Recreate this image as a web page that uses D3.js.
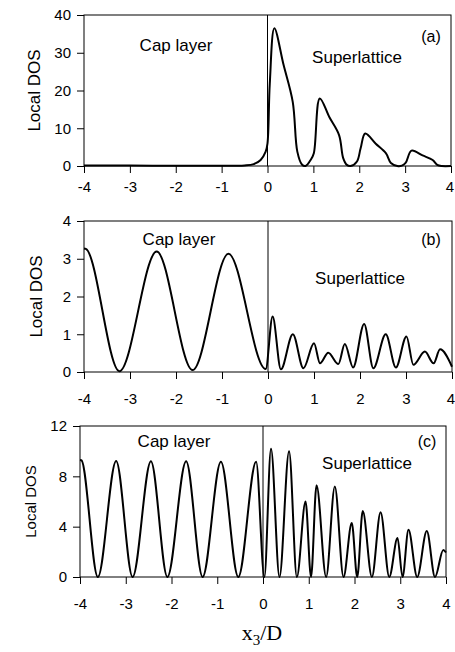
<!DOCTYPE html>
<html>
<head>
<meta charset="utf-8">
<script src="https://cdn.jsdelivr.net/npm/d3@7/dist/d3.min.js"></script>
<style>
  html, body { margin: 0; padding: 0; background: #fff; }
  svg { display: block; }
  text { font-family: "Liberation Sans", Arial, sans-serif; fill: #000; }
</style>
</head>
<body>
<svg id="chart" width="455" height="652"></svg>
<script>
// Shared x axis: position in units of the superlattice period D
const xDomain = [-4, 4];
const xTicks = [-4, -3, -2, -1, 0, 1, 2, 3, 4];

// Panel (a): local DOS, [x3/D, value]
const densityA = [
  [-4, 0.1], [-3, 0.1], [-2, 0.08], [-1, 0.05], [-0.5, 0.15], [-0.3, 0.5],
  [-0.15, 1.6], [-0.04, 3.8], [0, 6], [0.05, 21.9], [0.15, 36.5], [0.35, 26.8],
  [0.55, 17], [0.65, 3.8], [0.75, 0.4], [0.83, 0], [0.94, 1.6], [1.01, 3.4], [1.14, 17.9],
  [1.35, 12.9], [1.56, 8.2], [1.65, 2.1], [1.73, 0.3], [1.81, 0], [1.95, 1.2], [2.03, 4.7],
  [2.13, 8.6], [2.36, 5.9], [2.58, 3.4], [2.69, 0.8], [2.83, 0], [2.93, 0.1],
  [3.01, 0.8], [3.14, 4.06], [3.38, 2.8], [3.6, 1.6], [3.7, 0.3], [3.8, 0], [4, 0]
];
const yTicksA = [0, 10, 20, 30, 40];

// Panel (b)
const densityB = [
  [-4, 3.27], [-3.96, 3.26], [-3.23, 0.02], [-2.42, 3.19], [-1.64, 0.05],
  [-0.86, 3.13], [-0.05, 0.08], [0.10, 1.47], [0.28, 0.07], [0.54, 1.0],
  [0.77, 0.1], [1.0, 0.76], [1.13, 0.23], [1.31, 0.51], [1.53, 0.21],
  [1.67, 0.74], [1.85, 0.12], [2.09, 1.27], [2.29, 0.1], [2.56, 1.0],
  [2.78, 0.12], [3.01, 0.94], [3.16, 0.19], [3.41, 0.54], [3.6, 0.23],
  [3.74, 0.6], [4.0, 0.14]
];
const yTicksB = [0, 1, 2, 3, 4];

// Panel (c)
const densityC = [
  [-4, 9.3], [-3.97, 9.28], [-3.61, 0], [-3.21, 9.22], [-2.85, 0], [-2.45, 9.2],
  [-2.09, 0], [-1.68, 9.2], [-1.32, 0], [-0.92, 9.15], [-0.54, 0], [-0.15, 9.15],
  [0.03, 0], [0.175, 10.2], [0.36, 0], [0.57, 10.0], [0.74, 0], [0.93, 6.0],
  [1.05, 0], [1.17, 7.3], [1.38, 0], [1.57, 7.2], [1.76, 0], [1.94, 4.3],
  [2.06, 0], [2.18, 5.25], [2.38, 0], [2.57, 5.15], [2.76, 0], [2.94, 3.1],
  [3.05, 0], [3.18, 3.75], [3.37, 0], [3.58, 3.65], [3.76, 0], [3.94, 2.15],
  [4.0, 1.95]
];
const yTicksC = [0, 4, 8, 12];

const regionLabels = ["Cap layer", "Superlattice"];
const panelTags = ["(a)", "(b)", "(c)"];

const svg = d3.select("#chart");

const panels = [
  { data: densityA, yTicks: yTicksA, yMax: 40, tag: panelTags[0],
    curve: d3.curveCatmullRom.alpha(0.5),
    box: { left: 84, right: 451, top: 15, bottom: 166 },
    xPad: 8, labelSize: 17, labelX: 34,
    cap: [176, 51], sl: [357, 63], tagPos: [431, 42] },
  { data: densityB, yTicks: yTicksB, yMax: 4, tag: panelTags[1],
    curve: d3.curveMonotoneX,
    box: { left: 84, right: 452, top: 221, bottom: 372 },
    xPad: 14, labelSize: 17, labelX: 36,
    cap: [179, 245], sl: [360, 284], tagPos: [431, 245] },
  { data: densityC, yTicks: yTicksC, yMax: 12, tag: panelTags[2],
    curve: d3.curveMonotoneX,
    box: { left: 80, right: 446, top: 426, bottom: 577 },
    xPad: 14, labelSize: 15, labelX: 30,
    cap: [174, 447], sl: [367, 469], tagPos: [427, 447] }
];

// plain hyphen-minus tick labels
const plainFormat = d => String(d);

panels.forEach(p => {
  const b = p.box;
  const x = d3.scaleLinear().domain(xDomain).range([b.left, b.right]);
  const y = d3.scaleLinear().domain([0, p.yMax]).range([b.bottom, b.top]);
  const g = svg.append("g");

  // frame
  g.append("rect")
    .attr("x", b.left).attr("y", b.top)
    .attr("width", b.right - b.left).attr("height", b.bottom - b.top)
    .attr("fill", "none").attr("stroke", "#000").attr("stroke-width", 1);

  // interface between cap layer and superlattice
  g.append("line")
    .attr("x1", x(0)).attr("x2", x(0))
    .attr("y1", b.top).attr("y2", b.bottom)
    .attr("stroke", "#000").attr("stroke-width", 1);

  // x axis
  const xAxis = g.append("g")
    .attr("transform", `translate(0,${b.bottom})`)
    .call(d3.axisBottom(x).tickValues(xTicks).tickSize(7).tickPadding(p.xPad)
      .tickFormat(plainFormat));
  xAxis.select(".domain").remove();
  xAxis.selectAll("text").style("font-size", "15px")
    .style("font-family", "'Liberation Sans', Arial, sans-serif")
    .attr("dx", d => (x(d) > 449 ? -1.5 : 0));
  xAxis.selectAll("line").attr("stroke", "#000");

  // y axis
  const yAxis = g.append("g")
    .attr("transform", `translate(${b.left},0)`)
    .call(d3.axisLeft(y).tickValues(p.yTicks).tickSize(7).tickPadding(6)
      .tickFormat(plainFormat));
  yAxis.select(".domain").remove();
  yAxis.selectAll("text").style("font-size", "15px")
    .style("font-family", "'Liberation Sans', Arial, sans-serif");
  yAxis.selectAll("line").attr("stroke", "#000");

  // density curve
  const line = d3.line()
    .x(d => x(d[0]))
    .y(d => y(d[1]))
    .curve(p.curve);
  g.append("path")
    .datum(p.data)
    .attr("d", line)
    .attr("fill", "none")
    .attr("stroke", "#000")
    .attr("stroke-width", 2)
    .attr("stroke-linejoin", "round");

  // y label
  g.append("text")
    .attr("transform", `translate(${p.labelX},${(b.top + b.bottom) / 2}) rotate(-90)`)
    .attr("text-anchor", "middle")
    .attr("dominant-baseline", "central")
    .style("font-size", p.labelSize + "px")
    .text("Local DOS");

  // region annotations
  g.append("text").attr("x", p.cap[0]).attr("y", p.cap[1])
    .attr("text-anchor", "middle").style("font-size", "17px").text(regionLabels[0]);
  g.append("text").attr("x", p.sl[0]).attr("y", p.sl[1])
    .attr("text-anchor", "middle").style("font-size", "17px").text(regionLabels[1]);
  g.append("text").attr("x", p.tagPos[0]).attr("y", p.tagPos[1])
    .attr("text-anchor", "middle").style("font-size", "16px").text(p.tag);
});

// common x label
const xl = svg.append("text")
  .attr("x", 262).attr("y", 640)
  .attr("text-anchor", "middle")
  .style("font-family", "'Liberation Serif', 'Times New Roman', serif")
  .style("font-size", "22px");
xl.append("tspan").text("x");
xl.append("tspan").attr("dy", 5).style("font-size", "15px").text("3");
xl.append("tspan").attr("dy", -5).text("/D");
</script>
</body>
</html>
